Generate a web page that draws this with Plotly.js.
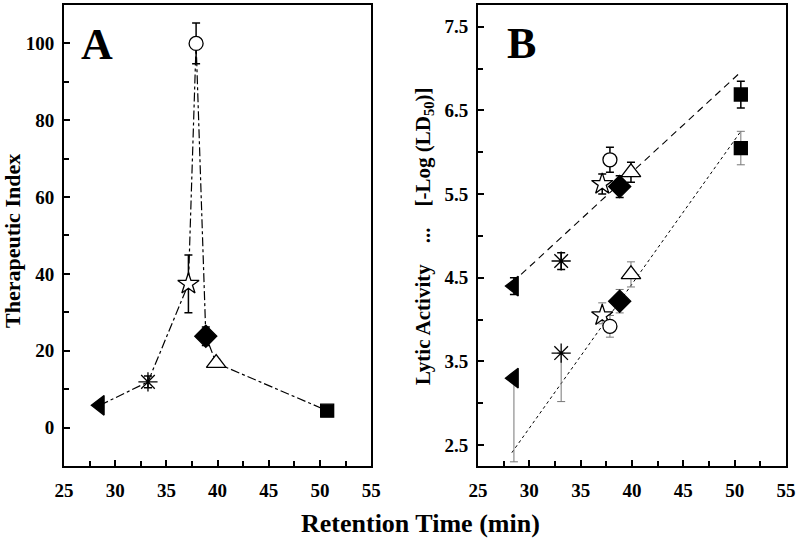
<!DOCTYPE html>
<html>
<head>
<meta charset="utf-8">
<script src="https://cdn.plot.ly/plotly-3.0.1.min.js"></script>
<style>html,body{margin:0;padding:0;background:#fff}#chart{width:800px;height:542px}</style>
</head>
<body>
<div id="chart"></div>
<script>
// ---- Data ----
var retentionTime = [28.5, 33.2, 37.15, 37.9, 38.85, 39.86, 50.7];
var symbolsList = ['triangle-left', 'asterisk-open', 'star', 'circle', 'diamond', 'triangle-up', 'square'];
var fillList = ['#000000', '#000000', '#ffffff', '#ffffff', '#000000', '#ffffff', '#000000'];

// Panel A: therapeutic index
var therapeuticIndex = [5.8, 11.9, 37.4, 100, 23.8, 16.8, 4.4];
var therapeuticErr = [0, 1.5, 7.5, 5.3, 2.4, 1.0, 0];

// Panel B: lytic activity, upper series (black error bars)
var retentionTimeB = [28.5, 33.1, 37.1, 37.85, 38.8, 39.9, 50.6];
var lyticUpper = [4.40, 4.70, 5.62, 5.91, 5.59, 5.76, 6.69];
var lyticUpperErr = [0.1, 0.1, 0.12, 0.15, 0.13, 0.12, 0.16];

// Panel B: lytic activity, lower series (gray error bars)
var lyticLower = [3.30, 3.60, 4.05, 3.92, 4.22, 4.54, 6.05];
var lyticLowerErrPlus = [0, 0, 0.15, 0.13, 0.14, 0.15, 0.2];
var lyticLowerErrMinus = [1.0, 0.58, 0.1, 0.13, 0.14, 0.15, 0.2];

// Fit lines (end points)
var fitUpperX = [29.2, 50.6];
var fitUpperY = [4.54, 6.96];
var fitLowerX = [28.3, 50.6];
var fitLowerY = [2.41, 6.25];

// Tick labels
var xTickVals = [25, 30, 35, 40, 45, 50, 55];
var yTickValsA = [0, 20, 40, 60, 80, 100];
var yTickValsB = [2.5, 3.5, 4.5, 5.5, 6.5, 7.5];

var FONT = 'Liberation Serif, Times New Roman, serif';

function boldLabels(vals) { return vals.map(function (v) { return '<b>' + v.toFixed(v % 1 ? 1 : 0) + '</b>'; }); }

var markerSpec = {
  symbol: symbolsList,
  color: fillList,
  opacity: 1,
  size: [17, 16, 16, 14, 17, 17, 13],
  line: {color: '#000000', width: 1.3}
};

var traces = [
  {
    x: retentionTime, y: therapeuticIndex, xaxis: 'x', yaxis: 'y',
    mode: 'lines+markers', type: 'scatter',
    line: {color: '#000000', width: 1.2, dash: 'dashdot'},
    marker: markerSpec,
    error_y: {type: 'data', array: therapeuticErr, visible: true, color: '#000000', thickness: 1.5, width: 4}
  },
  {
    x: fitUpperX, y: fitUpperY, xaxis: 'x2', yaxis: 'y2',
    mode: 'lines', type: 'scatter',
    line: {color: '#000000', width: 1.1, dash: '7px,5px'}
  },
  {
    x: fitLowerX, y: fitLowerY, xaxis: 'x2', yaxis: 'y2',
    mode: 'lines', type: 'scatter',
    line: {color: '#000000', width: 1, dash: 'dot'}
  },
  {
    x: retentionTimeB, y: lyticLower, xaxis: 'x2', yaxis: 'y2',
    mode: 'markers', type: 'scatter',
    marker: markerSpec,
    error_y: {type: 'data', symmetric: false, array: lyticLowerErrPlus, arrayminus: lyticLowerErrMinus,
              visible: true, color: '#777777', thickness: 1, width: 4}
  },
  {
    x: retentionTimeB, y: lyticUpper, xaxis: 'x2', yaxis: 'y2',
    mode: 'markers', type: 'scatter',
    marker: markerSpec,
    error_y: {type: 'data', array: lyticUpperErr, visible: true, color: '#000000', thickness: 1.5, width: 4}
  }
];

var axisCommon = {
  showgrid: false, zeroline: false, showline: true, mirror: true,
  linecolor: '#000000', linewidth: 2,
  ticks: 'inside', ticklen: 6, tickwidth: 2, tickcolor: '#000000',
  tickfont: {family: FONT, size: 19, color: '#000000'}
};

function ax(extra) { return Object.assign({}, axisCommon, extra); }

var layout = {
  width: 800, height: 542,
  margin: {l: 0, r: 0, t: 0, b: 0},
  paper_bgcolor: '#ffffff', plot_bgcolor: '#ffffff',
  showlegend: false,
  font: {family: FONT, color: '#000000'},
  xaxis: ax({domain: [0.08, 0.464], range: [25, 55], tickvals: xTickVals, ticktext: boldLabels(xTickVals),
             minor: {dtick: 2.5, ticks: 'inside', ticklen: 5, tickwidth: 2, tickcolor: '#000000'},
             anchor: 'y', ticklabelstandoff: 6}),
  yaxis: ax({domain: [0.1402, 0.9908], range: [-10, 110], tickvals: yTickValsA, ticktext: boldLabels(yTickValsA),
             minor: {dtick: 10, ticks: 'inside', ticklen: 5, tickwidth: 2, tickcolor: '#000000'},
             anchor: 'x', ticklabelstandoff: 4}),
  xaxis2: ax({domain: [0.5975, 0.9825], range: [25, 55], tickvals: xTickVals, ticktext: boldLabels(xTickVals),
              minor: {dtick: 2.5, ticks: 'inside', ticklen: 5, tickwidth: 2, tickcolor: '#000000'},
              anchor: 'y2', ticklabelstandoff: 6}),
  yaxis2: ax({domain: [0.1402, 0.9908], range: [2.25, 7.76], tickvals: yTickValsB, ticktext: boldLabels(yTickValsB),
              minor: {dtick: 0.5, tick0: 2.5, ticks: 'inside', ticklen: 5, tickwidth: 2, tickcolor: '#000000'},
              anchor: 'x2', ticklabelstandoff: 4}),
  annotations: [
    {text: '<b>A</b>', xref: 'paper', yref: 'paper', x: 97 / 800, y: 1 - 44 / 542,
     xanchor: 'center', yanchor: 'middle', showarrow: false,
     font: {family: FONT, size: 44, color: '#000000'}},
    {text: '<b>B</b>', xref: 'paper', yref: 'paper', x: 521 / 800, y: 1 - 43 / 542,
     xanchor: 'center', yanchor: 'middle', showarrow: false,
     font: {family: FONT, size: 44, color: '#000000'}},
    {text: '<b>Therapeutic Index</b>', xref: 'paper', yref: 'paper', x: 13 / 800, y: 1 - 241 / 542,
     xanchor: 'center', yanchor: 'middle', showarrow: false, textangle: -90,
     font: {family: FONT, size: 22, color: '#000000'}},
    {text: '<b>Lytic Activity    ...    [-Log (LD<sub>50</sub>)]</b>', xref: 'paper', yref: 'paper',
     x: 424 / 800, y: 1 - 236 / 542,
     xanchor: 'center', yanchor: 'middle', showarrow: false, textangle: -90,
     font: {family: FONT, size: 21, color: '#000000'}},
    {text: '<b>Retention Time (min)</b>', xref: 'paper', yref: 'paper', x: 420 / 800, y: 1 - 523 / 542,
     xanchor: 'center', yanchor: 'middle', showarrow: false,
     font: {family: FONT, size: 26, color: '#000000'}}
  ]
};

Plotly.newPlot('chart', traces, layout, {staticPlot: true, displayModeBar: false});
</script>
</body>
</html>
